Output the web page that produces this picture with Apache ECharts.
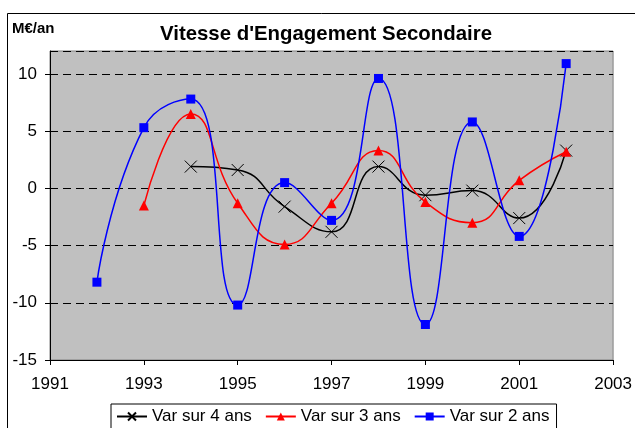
<!DOCTYPE html>
<html><head><meta charset="utf-8">
<script src="https://cdn.jsdelivr.net/npm/echarts@6/dist/echarts.min.js"></script>
<style>html,body{margin:0;padding:0;background:#fff}#c{width:635px;height:428px}</style>
</head><body><div id="c"></div>
<script>
var years4 = [1994,1995,1996,1997,1998,1999,2000,2001,2002];
var var4 = [1.9,1.6,-1.6,-3.8,1.9,-0.6,-0.2,-2.6,3.3];
var years3 = [1993,1994,1995,1996,1997,1998,1999,2000,2001,2002];
var var3 = [-1.5,6.5,-1.3,-4.9,-1.3,3.3,-1.2,-3.0,0.7,3.2];
var years2 = [1992,1993,1994,1995,1996,1997,1998,1999,2000,2001,2002];
var var2 = [-8.2,5.3,7.8,-10.2,0.5,-2.8,9.6,-11.9,5.8,-4.2,10.9];
var yTicks = [-15,-10,-5,0,5,10];
var xTicks = [1991,1993,1995,1997,1999,2001,2003];
var names = ['Var sur 4 ans','Var sur 3 ans','Var sur 2 ans'];

function pairs(xs, ys){ return xs.map(function(x,i){return [x, ys[i]];}); }
var F = 'Liberation Sans, Arial, sans-serif';
var chart = echarts.init(document.getElementById('c'), null, {renderer:'canvas'});
chart.setOption({
  animation:false,
  backgroundColor:'#fff',
  graphic:[
    {type:'rect', shape:{x:7.5,y:13.5,width:640,height:430}, style:{fill:'none',stroke:'#000',lineWidth:1}, z:-10},
    {type:'text', left:12, top:21, style:{text:'M€/an', font:'bold 15px '+F, fill:'#000'}}
  ],
  title:{text:"Vitesse d'Engagement Secondaire", left:160, top:24,
    textStyle:{fontFamily:F, fontWeight:'bold', fontSize:20.4, color:'#000'}, padding:0},
  grid:{left:50, right:20, top:51, bottom:68, show:true, backgroundColor:'#c0c0c0', borderColor:'#808080', borderWidth:1},
  legend:{top:404, left:111, itemGap:13, itemWidth:30, itemHeight:10,
    borderColor:'#000', borderWidth:1, padding:[4,7,6,5], backgroundColor:'#fff',
    textStyle:{fontFamily:F, fontSize:17, color:'#000'}, data:names},
  xAxis:{type:'value', min:1991, max:2003, interval:2,
    axisLine:{onZero:false, lineStyle:{color:'#000',width:1}}, axisTick:{show:true,length:5,lineStyle:{color:'#000'}},
    axisLabel:{fontFamily:F, fontSize:17, color:'#000', margin:16,
      formatter:function(v){return xTicks.indexOf(v)>=0?String(v):'';}},
    splitLine:{show:false}},
  yAxis:{type:'value', min:-15, max:12, interval:5,
    axisLine:{show:true, onZero:false, lineStyle:{color:'#000',width:1}}, axisTick:{show:true,length:5,lineStyle:{color:'#000'}},
    axisLabel:{fontFamily:F, fontSize:17, color:'#000', margin:13, showMaxLabel:false,
      formatter:function(v){return yTicks.indexOf(v)>=0?String(v):'';}},
    splitLine:{show:true, lineStyle:{color:'#000', type:[8,5], width:1}}},
  series:[
    {name:names[0], type:'line', smooth:0.5, data:pairs(years4,var4), z:3,
      symbol:'path://M0,0L10,10M10,0L0,10', symbolSize:12,
      lineStyle:{color:'#000',width:1.5}, itemStyle:{color:'none', borderColor:'#000', borderWidth:1}},
    {name:names[1], type:'line', smooth:0.5, data:pairs(years3,var3), z:4,
      symbol:'triangle', symbolSize:10,
      lineStyle:{color:'#ff0000',width:1.5}, itemStyle:{color:'#ff0000'}},
    {name:names[2], type:'line', smooth:0.5, data:pairs(years2,var2), z:5,
      symbol:'rect', symbolSize:9,
      lineStyle:{color:'#0000ff',width:1.5}, itemStyle:{color:'#0000ff'}}
  ]
});
</script></body></html>
